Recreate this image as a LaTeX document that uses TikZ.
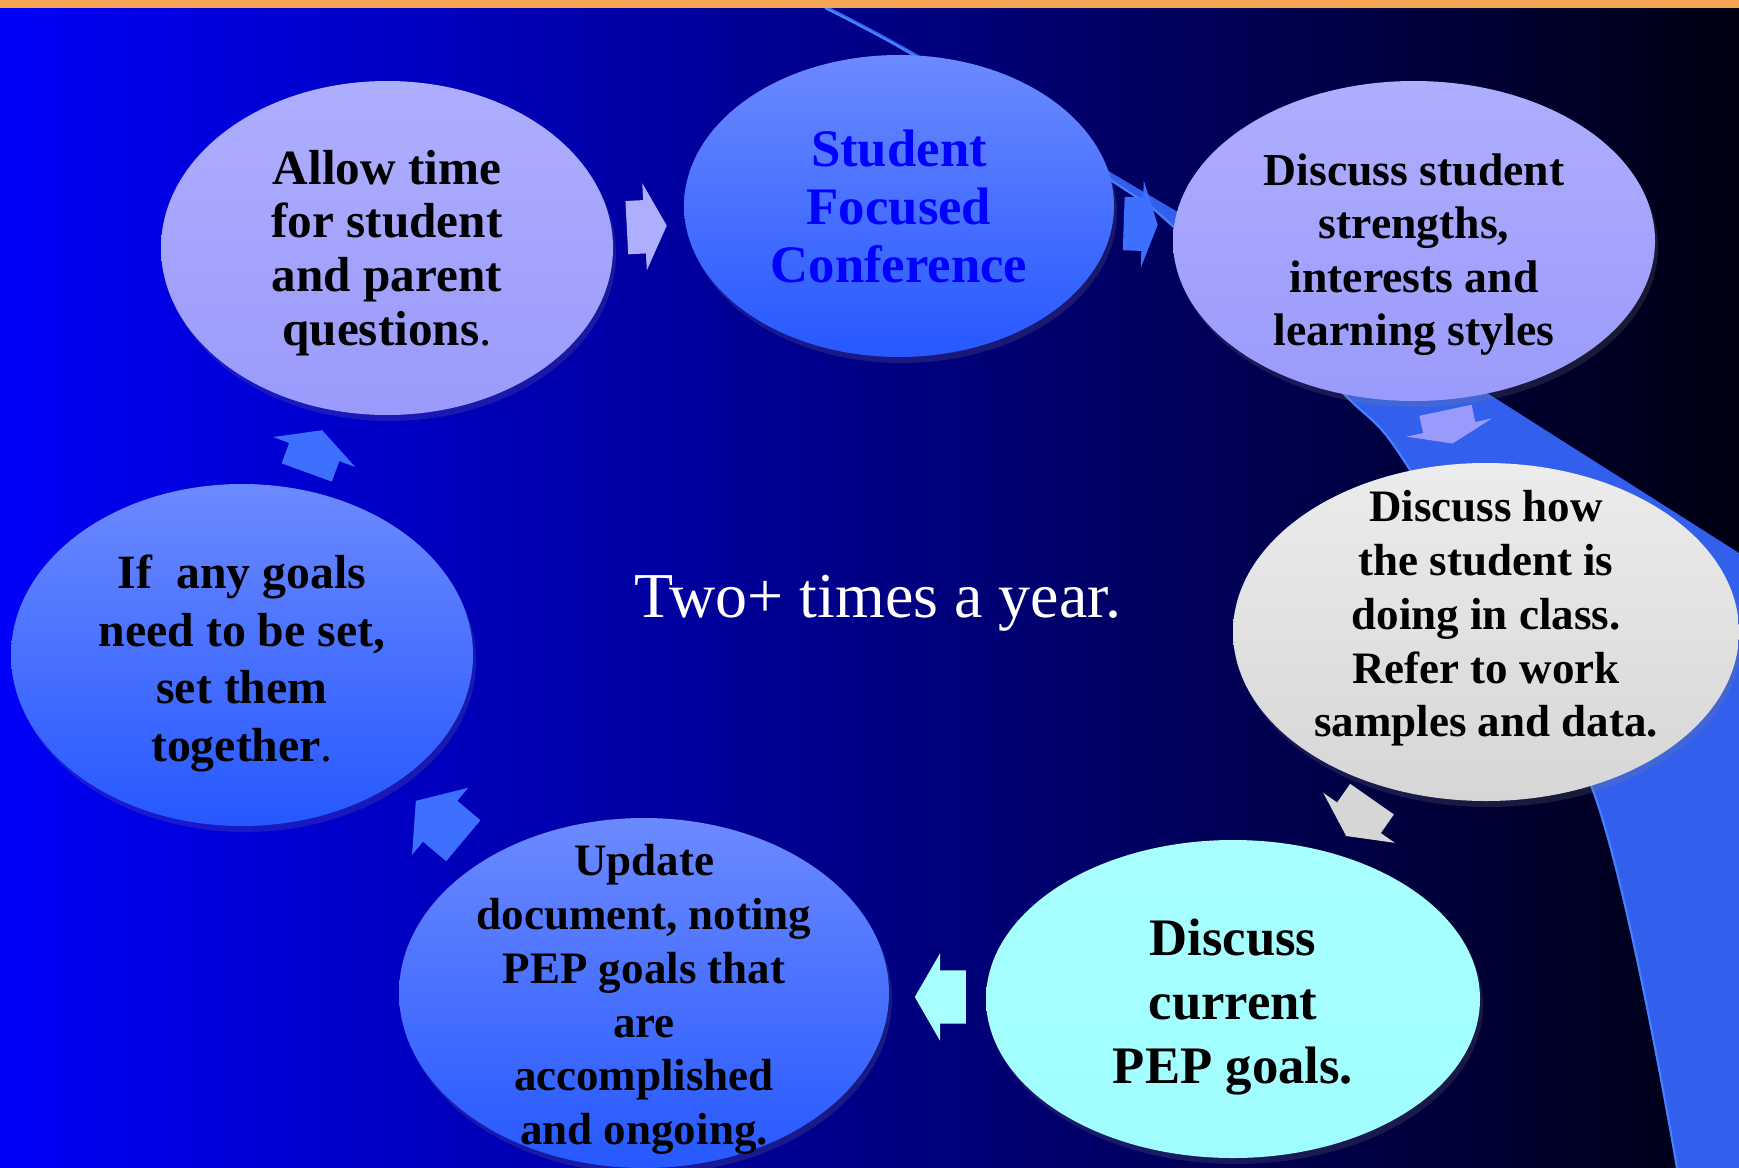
\documentclass[tikz,border=0pt]{standalone}
\usepackage{fontspec}
\setmainfont{Liberation Serif}
\usetikzlibrary{shapes.geometric,shapes.arrows,shadows}

% slide colours
\definecolor{barorange}{RGB}{245,164,84}
\definecolor{bgblue}{RGB}{0,0,248}
\definecolor{bgdark}{RGB}{0,0,18}
\definecolor{swoosh}{RGB}{50,96,236}
\definecolor{swooshedge}{RGB}{70,130,255}
\definecolor{lavtop}{RGB}{174,174,255}
\definecolor{lavbot}{RGB}{154,154,251}
\definecolor{bluetop}{RGB}{108,138,255}
\definecolor{bluebot}{RGB}{38,88,255}
\definecolor{greytop}{RGB}{236,236,236}
\definecolor{greybot}{RGB}{214,214,214}
\definecolor{aquatop}{RGB}{168,255,255}
\definecolor{aquabot}{RGB}{160,253,255}
\definecolor{arrowblue}{RGB}{62,112,255}

\tikzset{
  bubble/.style={ellipse, inner sep=0pt,
    drop shadow={shadow xshift=.3mm, shadow yshift=-.6mm, opacity=.2}},
  lavbubble/.style={bubble, top color=lavtop, bottom color=lavbot},
  bluebubble/.style={bubble, top color=bluetop, bottom color=bluebot},
  greybubble/.style={bubble, top color=greytop, bottom color=greybot},
  aquabubble/.style={bubble, top color=aquatop, bottom color=aquabot},
  words/.style={align=center, inner sep=0pt, font=\bfseries},
  cyc/.style={single arrow, inner sep=0pt, text height=2.6mm, text depth=2.6mm,
    minimum width=8.6mm, single arrow head extend=1.7mm},
}

\begin{document}
\begin{tikzpicture}[x=0.1mm, y=-0.1mm]
\useasboundingbox (0,0) rectangle (1739,1168);

% backdrop, swoosh and top rule
\shade[left color=bgblue, right color=bgdark] (0,0) rectangle (1739,1168);
\fill[swoosh] plot[smooth] coordinates {(825,8) (918,58) (1112,181) (1177,230) (1343,393) (1410,470) (1592,788) (1677,1168)}
  -- (1739,1168) -- (1739,553)
  -- plot[smooth] coordinates {(1487,393) (1110,172) (920,56) (831,8)} -- cycle;
\draw[swooshedge, line width=.6pt] plot[smooth] coordinates {(825,8) (918,58) (1112,181) (1177,230) (1343,393) (1410,470) (1592,788) (1677,1168)};
\fill[barorange] (0,0) rectangle (1739,8);

% the seven steps
\node[lavbubble, minimum width=45.2mm, minimum height=33.4mm] (allow) at (387,248) {};
\node[bluebubble, minimum width=43mm, minimum height=30.2mm] (conf) at (899,206) {};
\node[lavbubble, minimum width=48.2mm, minimum height=32mm] (strengths) at (1414,241) {};
\node[greybubble, minimum width=50.6mm, minimum height=33.8mm] (howdoing) at (1486,632) {};
\node[aquabubble, minimum width=49.4mm, minimum height=31.8mm] (pepgoals) at (1233,999) {};
\node[bluebubble, minimum width=49mm, minimum height=35mm] (update) at (644,993) {};
\node[bluebubble, minimum width=46.2mm, minimum height=34.2mm] (setgoals) at (242,655) {};

\node[words, yshift=-.5mm, font=\fontsize{14}{15.3}\selectfont\bfseries] (allow-t) at (allow)
  {Allow time\\for student\\and parent\\questions\textmd{.}};
\node[words, text=blue, font=\fontsize{15}{16.5}\selectfont\bfseries] (conf-t) at (conf)
  {Student\\Focused\\Conference};
\node[words, yshift=-1.35mm, font=\fontsize{13}{15.2}\selectfont\bfseries] (strengths-t) at (strengths)
  {Discuss student\\strengths,\\interests and\\learning styles};
\node[words, yshift=1.35mm, font=\fontsize{12.8}{15.3}\selectfont\bfseries] (howdoing-t) at (howdoing)
  {Discuss how\\the student is\\doing in class.\\Refer to work\\samples and data.};
\node[words, yshift=-.8mm, font=\fontsize{15}{18.2}\selectfont\bfseries] (pepgoals-t) at (pepgoals)
  {Discuss\\current\\PEP goals.};
\node[words, yshift=-.65mm, font=\fontsize{12.8}{15.3}\selectfont\bfseries] (update-t) at (update)
  {Update\\document, noting\\PEP goals that\\are\\accomplished\\and ongoing.};
\node[words, yshift=-.85mm, font=\fontsize{13.6}{16.4}\selectfont\bfseries] (setgoals-t) at (setgoals)
  {If\ \ any goals\\need to be set,\\set them\\together\textmd{.}};

\node[text=white, font=\fontsize{18.2}{20}\selectfont] (often) at (878,603) {Two+ times a year.};

% arrows round the cycle
\node[cyc, fill=lavtop, minimum height=4mm, single arrow tip angle=126, rotate=3] (a1) at (640,227) {};
\node[cyc, fill=arrowblue, minimum height=3.4mm, single arrow tip angle=141, rotate=-2] (a2) at (1136,224) {};
\node[cyc, fill=lavbot, minimum height=3.4mm, single arrow tip angle=139, rotate=-78] (a3) at (1448,422) {};
\node[cyc, fill=greybot, minimum height=4.5mm, single arrow tip angle=126, rotate=-125] (a4) at (1363,812) {};
\node[cyc, fill=aquatop, minimum height=5.1mm, single arrow tip angle=120, rotate=180] (a5) at (948,997) {};
\node[cyc, fill=arrowblue, minimum height=6.2mm, single arrow tip angle=108, rotate=140] (a6) at (447,827) {};
\node[cyc, fill=arrowblue, minimum height=4.5mm, single arrow tip angle=124, rotate=70] (a7) at (312,458) {};
\end{tikzpicture}
\end{document}
